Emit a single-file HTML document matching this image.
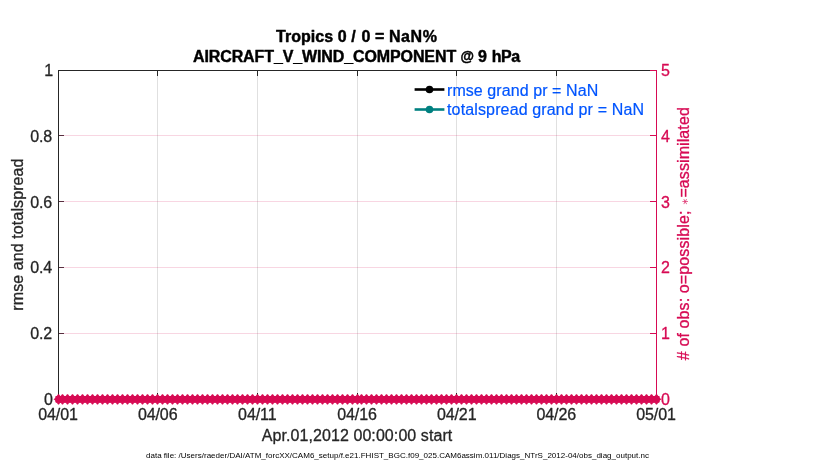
<!DOCTYPE html>
<html lang="en">
<head>
<meta charset="utf-8">
<title>AIRCRAFT_V_WIND_COMPONENT @ 9 hPa</title>
<style>
html,body{margin:0;padding:0;background:#fff;}
body{width:830px;height:470px;overflow:hidden;}
svg{display:block;}
text{font-family:'Liberation Sans', 'DejaVu Sans', sans-serif;font-size:16px;fill:#262626;stroke:#262626;stroke-width:0.3px;stroke-linejoin:round;}
.t{font-weight:bold;fill:#000;stroke:#000;stroke-width:0.45px;}
.yl{text-anchor:end;}
.yr{fill:#D70A53;stroke:#D70A53;text-anchor:start;}
.xl{text-anchor:middle;}
.lg{fill:#0055FF;stroke:#0055FF;stroke-width:0.2px;}
.ft{font-size:8px;fill:#000;stroke:none;}
</style>
</head>
<body>
<svg width="830" height="470" viewBox="0 0 830 470">
<defs>
<g id="m" fill="#D70A53">
<path d="M-2.6 -3.1H2.6V3.1H-2.6Z"/>
<path d="M-.5 -5.15H.5L2 -3H-2ZM-.5 5.15H.5L2 3H-2ZM-5 0L-2.5 -1.8V1.8ZM5 0L2.5 -1.8V1.8Z"/>
<path d="M-3.2 -2.8L-2.3 -3.35L2.3 -3.35L3.2 -2.8V2.8L2.3 3.35H-2.3L-3.2 2.8Z"/>
</g>
</defs>
<rect width="830" height="470" fill="#fff"/>

<g fill="none" stroke-width="2.6">
<path d="M414.6 89.5H444.4" stroke="#000"/>
<path d="M414.6 109.5H444.4" stroke="#008080"/>
</g>
<circle cx="429.5" cy="89.5" r="3.8" fill="#000"/>
<circle cx="429.5" cy="109.5" r="3.8" fill="#008080"/>
<text class="lg" x="447" y="96" textLength="151.2" lengthAdjust="spacing">rmse grand pr = NaN</text>
<text class="lg" x="447" y="115" textLength="197" lengthAdjust="spacing">totalspread grand pr = NaN</text>
<g stroke="#262626" stroke-opacity="0.14" stroke-width="1" shape-rendering="crispEdges">
<line x1="157.5" y1="70.5" x2="157.5" y2="399.5"/>
<line x1="257.5" y1="70.5" x2="257.5" y2="399.5"/>
<line x1="357.5" y1="70.5" x2="357.5" y2="399.5"/>
<line x1="456.5" y1="70.5" x2="456.5" y2="399.5"/>
<line x1="556.5" y1="70.5" x2="556.5" y2="399.5"/>
</g>
<g stroke="#D70A53" stroke-opacity="0.17" stroke-width="1" shape-rendering="crispEdges">
<line x1="58.5" y1="333.5" x2="656.5" y2="333.5"/>
<line x1="58.5" y1="267.5" x2="656.5" y2="267.5"/>
<line x1="58.5" y1="201.5" x2="656.5" y2="201.5"/>
<line x1="58.5" y1="135.5" x2="656.5" y2="135.5"/>
</g>
<g stroke="#262626" stroke-width="1" fill="none" shape-rendering="crispEdges">
<path d="M58.0 70.5H657.0M58.0 399.5H657.0M58.5 70.0V400.0"/>
<path d="M157.5 71V76M157.5 399V393"/>
<path d="M257.5 71V76M257.5 399V393"/>
<path d="M357.5 71V76M357.5 399V393"/>
<path d="M456.5 71V76M456.5 399V393"/>
<path d="M556.5 71V76M556.5 399V393"/>
<path d="M59 333.5H64" stroke="#3C1222" stroke-opacity="0.85"/>
<path d="M59 267.5H64" stroke="#3C1222" stroke-opacity="0.85"/>
<path d="M59 201.5H64" stroke="#3C1222" stroke-opacity="0.85"/>
<path d="M59 135.5H64" stroke="#3C1222" stroke-opacity="0.85"/>
</g>
<g stroke="#D70A53" stroke-width="1" fill="none" shape-rendering="crispEdges">
<path d="M656.5 70.0V400.0"/>
<path d="M656 399.5H650"/>
<path d="M656 333.5H650"/>
<path d="M656 267.5H650"/>
<path d="M656 201.5H650"/>
<path d="M656 135.5H650"/>
<path d="M656 70.5H650"/>
</g>
<g>
<use href="#m" x="58.5" y="399.3"/>
<use href="#m" x="62.5" y="399.3"/>
<use href="#m" x="67.5" y="399.3"/>
<use href="#m" x="72.5" y="399.3"/>
<use href="#m" x="77.5" y="399.3"/>
<use href="#m" x="82.5" y="399.3"/>
<use href="#m" x="87.5" y="399.3"/>
<use href="#m" x="92.5" y="399.3"/>
<use href="#m" x="97.5" y="399.3"/>
<use href="#m" x="102.5" y="399.3"/>
<use href="#m" x="107.5" y="399.3"/>
<use href="#m" x="112.5" y="399.3"/>
<use href="#m" x="117.5" y="399.3"/>
<use href="#m" x="122.5" y="399.3"/>
<use href="#m" x="127.5" y="399.3"/>
<use href="#m" x="132.5" y="399.3"/>
<use href="#m" x="137.5" y="399.3"/>
<use href="#m" x="142.5" y="399.3"/>
<use href="#m" x="147.5" y="399.3"/>
<use href="#m" x="152.5" y="399.3"/>
<use href="#m" x="157.5" y="399.3"/>
<use href="#m" x="162.5" y="399.3"/>
<use href="#m" x="167.5" y="399.3"/>
<use href="#m" x="172.5" y="399.3"/>
<use href="#m" x="177.5" y="399.3"/>
<use href="#m" x="182.5" y="399.3"/>
<use href="#m" x="187.5" y="399.3"/>
<use href="#m" x="192.5" y="399.3"/>
<use href="#m" x="197.5" y="399.3"/>
<use href="#m" x="202.5" y="399.3"/>
<use href="#m" x="207.5" y="399.3"/>
<use href="#m" x="212.5" y="399.3"/>
<use href="#m" x="217.5" y="399.3"/>
<use href="#m" x="222.5" y="399.3"/>
<use href="#m" x="227.5" y="399.3"/>
<use href="#m" x="232.5" y="399.3"/>
<use href="#m" x="237.5" y="399.3"/>
<use href="#m" x="242.5" y="399.3"/>
<use href="#m" x="247.5" y="399.3"/>
<use href="#m" x="252.5" y="399.3"/>
<use href="#m" x="257.5" y="399.3"/>
<use href="#m" x="262.5" y="399.3"/>
<use href="#m" x="267.5" y="399.3"/>
<use href="#m" x="272.5" y="399.3"/>
<use href="#m" x="277.5" y="399.3"/>
<use href="#m" x="282.5" y="399.3"/>
<use href="#m" x="287.5" y="399.3"/>
<use href="#m" x="292.5" y="399.3"/>
<use href="#m" x="297.5" y="399.3"/>
<use href="#m" x="302.5" y="399.3"/>
<use href="#m" x="307.5" y="399.3"/>
<use href="#m" x="312.5" y="399.3"/>
<use href="#m" x="317.5" y="399.3"/>
<use href="#m" x="322.5" y="399.3"/>
<use href="#m" x="327.5" y="399.3"/>
<use href="#m" x="332.5" y="399.3"/>
<use href="#m" x="337.5" y="399.3"/>
<use href="#m" x="342.5" y="399.3"/>
<use href="#m" x="347.5" y="399.3"/>
<use href="#m" x="352.5" y="399.3"/>
<use href="#m" x="357.5" y="399.3"/>
<use href="#m" x="361.5" y="399.3"/>
<use href="#m" x="366.5" y="399.3"/>
<use href="#m" x="371.5" y="399.3"/>
<use href="#m" x="376.5" y="399.3"/>
<use href="#m" x="381.5" y="399.3"/>
<use href="#m" x="386.5" y="399.3"/>
<use href="#m" x="391.5" y="399.3"/>
<use href="#m" x="396.5" y="399.3"/>
<use href="#m" x="401.5" y="399.3"/>
<use href="#m" x="406.5" y="399.3"/>
<use href="#m" x="411.5" y="399.3"/>
<use href="#m" x="416.5" y="399.3"/>
<use href="#m" x="421.5" y="399.3"/>
<use href="#m" x="426.5" y="399.3"/>
<use href="#m" x="431.5" y="399.3"/>
<use href="#m" x="436.5" y="399.3"/>
<use href="#m" x="441.5" y="399.3"/>
<use href="#m" x="446.5" y="399.3"/>
<use href="#m" x="451.5" y="399.3"/>
<use href="#m" x="456.5" y="399.3"/>
<use href="#m" x="461.5" y="399.3"/>
<use href="#m" x="466.5" y="399.3"/>
<use href="#m" x="471.5" y="399.3"/>
<use href="#m" x="476.5" y="399.3"/>
<use href="#m" x="481.5" y="399.3"/>
<use href="#m" x="486.5" y="399.3"/>
<use href="#m" x="491.5" y="399.3"/>
<use href="#m" x="496.5" y="399.3"/>
<use href="#m" x="501.5" y="399.3"/>
<use href="#m" x="506.5" y="399.3"/>
<use href="#m" x="511.5" y="399.3"/>
<use href="#m" x="516.5" y="399.3"/>
<use href="#m" x="521.5" y="399.3"/>
<use href="#m" x="526.5" y="399.3"/>
<use href="#m" x="531.5" y="399.3"/>
<use href="#m" x="536.5" y="399.3"/>
<use href="#m" x="541.5" y="399.3"/>
<use href="#m" x="546.5" y="399.3"/>
<use href="#m" x="551.5" y="399.3"/>
<use href="#m" x="556.5" y="399.3"/>
<use href="#m" x="561.5" y="399.3"/>
<use href="#m" x="566.5" y="399.3"/>
<use href="#m" x="571.5" y="399.3"/>
<use href="#m" x="576.5" y="399.3"/>
<use href="#m" x="581.5" y="399.3"/>
<use href="#m" x="586.5" y="399.3"/>
<use href="#m" x="591.5" y="399.3"/>
<use href="#m" x="596.5" y="399.3"/>
<use href="#m" x="601.5" y="399.3"/>
<use href="#m" x="606.5" y="399.3"/>
<use href="#m" x="611.5" y="399.3"/>
<use href="#m" x="616.5" y="399.3"/>
<use href="#m" x="621.5" y="399.3"/>
<use href="#m" x="626.5" y="399.3"/>
<use href="#m" x="631.5" y="399.3"/>
<use href="#m" x="636.5" y="399.3"/>
<use href="#m" x="641.5" y="399.3"/>
<use href="#m" x="646.5" y="399.3"/>
<use href="#m" x="651.5" y="399.3"/>
<use href="#m" x="656.5" y="399.3"/>
</g>
<text class="t" y="42" ><tspan x="276.0" letter-spacing="0.05" y="42">Tropics </tspan><tspan x="337.8" y="42">0 </tspan><tspan x="351.2" y="42">/ </tspan><tspan x="361.6" y="42">0 </tspan><tspan x="375.0" y="42">= </tspan><tspan x="389.0" letter-spacing="0.55" y="42">NaN%</tspan></text>
<text class="t" y="62" ><tspan x="193.0" letter-spacing="-0.11" y="62">AIRCRAFT_V_WIND_COMPONENT </tspan><tspan x="460.6" font-size="13.8" y="60.6">@ </tspan><tspan x="477.9" y="62">9 </tspan><tspan x="491.8" letter-spacing="-0.5" y="62">hPa</tspan></text>
<text class="yl" x="52.7" y="405" letter-spacing="-0.2">0</text>
<text class="yl" x="51.9" y="339" letter-spacing="-0.2">0.2</text>
<text class="yl" x="51.9" y="273" letter-spacing="-0.2">0.4</text>
<text class="yl" x="51.9" y="208" letter-spacing="-0.2">0.6</text>
<text class="yl" x="51.9" y="142" letter-spacing="-0.2">0.8</text>
<text class="yl" x="53.0" y="76" letter-spacing="-0.2">1</text>
<text class="yr" x="660.9" y="405">0</text>
<text class="yr" x="660.9" y="339">1</text>
<text class="yr" x="660.9" y="273">2</text>
<text class="yr" x="660.9" y="208">3</text>
<text class="yr" x="660.9" y="142">4</text>
<text class="yr" x="660.9" y="76">5</text>
<text class="xl" x="58.0" y="420" letter-spacing="-0.1">04/01</text>
<text class="xl" x="157.7" y="420" letter-spacing="-0.1">04/06</text>
<text class="xl" x="257.3" y="420" letter-spacing="-0.1">04/11</text>
<text class="xl" x="357.0" y="420" letter-spacing="-0.1">04/16</text>
<text class="xl" x="456.7" y="420" letter-spacing="-0.1">04/21</text>
<text class="xl" x="556.3" y="420" letter-spacing="-0.1">04/26</text>
<text class="xl" x="656.0" y="420" letter-spacing="-0.1">05/01</text>
<text class="xl" x="357" y="441" textLength="190.6" lengthAdjust="spacing">Apr.01,2012 00:00:00 start</text>
<text class="xl" transform="translate(23.3 234.6) rotate(-90)" textLength="152.2" lengthAdjust="spacing">rmse and totalspread</text>
<text style="fill:#D70A53;stroke:#D70A53" transform="translate(689.4 360.2) rotate(-90)"><tspan x="0" y="0" textLength="149.6" lengthAdjust="spacing"># of obs: o=possible;</tspan><tspan> </tspan><tspan x="154.9" y="-1.2" font-size="9" stroke="none" fill-opacity="0.8">&#8727;</tspan><tspan x="162.6" y="0" textLength="90.4" lengthAdjust="spacing">=assimilated</tspan></text>
<text class="ft" x="146" y="458" textLength="503" lengthAdjust="spacing">data file: /Users/raeder/DAI/ATM_forcXX/CAM6_setup/f.e21.FHIST_BGC.f09_025.CAM6assim.011/Diags_NTrS_2012-04/obs_diag_output.nc</text>
</svg>
</body>
</html>
